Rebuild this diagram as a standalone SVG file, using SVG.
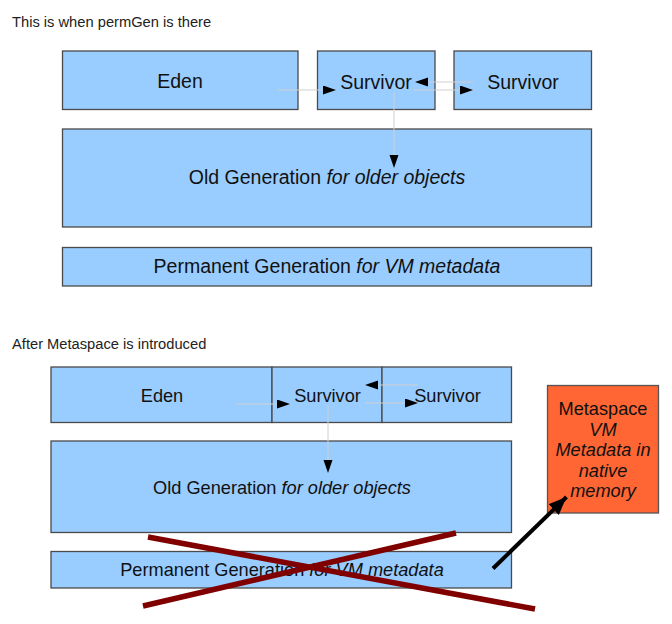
<svg xmlns="http://www.w3.org/2000/svg" width="672" height="624" viewBox="0 0 672 624">
<style>
.box{fill:#99ccff;stroke:#4a4a4a;stroke-width:1.3}
.meta{fill:#ff6633;stroke:#555;stroke-width:1.3}
.t{font-family:"Liberation Sans",Arial,sans-serif;fill:#111;text-anchor:middle}
.t1{font-size:19.5px}
.t2{font-size:18.2px}
.title{font-family:"Liberation Sans",Arial,sans-serif;font-size:14.7px;fill:#222}
.it{font-style:italic}
.conn{stroke:#d0d0d0;stroke-width:1;fill:none}
.big{stroke:#000;stroke-width:4;fill:none}
.cross{stroke:#800000;stroke-width:5.5;fill:none}
</style>
<defs>
<marker id="ah" markerUnits="userSpaceOnUse" markerWidth="14" markerHeight="10" refX="13" refY="4.5" orient="auto">
<path d="M0,0 L13,4.5 L0,9 Z" fill="#000"/>
</marker>
<marker id="bigah" markerUnits="userSpaceOnUse" markerWidth="20" markerHeight="16" refX="18" refY="7.5" orient="auto">
<path d="M0,0 L18,7.5 L0,15 Z" fill="#000"/>
</marker>
</defs>
<rect width="672" height="624" fill="#fff"/>
<text class="title" x="12" y="27">This is when permGen is there</text>
<g id="eden1"><rect class="box" x="62.5" y="51" width="235.5" height="58.5"/><text class="t t1" x="180" y="87.5">Eden</text></g>
<g id="survivor1a"><rect class="box" x="317.5" y="51" width="117.5" height="58.5"/><text class="t t1" x="376" y="88.5">Survivor</text></g>
<g id="survivor1b"><rect class="box" x="454" y="51" width="137.5" height="58.5"/><text class="t t1" x="523" y="88.5">Survivor</text></g>
<g id="old1"><rect class="box" x="62.5" y="129" width="529" height="98"/><text class="t t1" x="327" y="184"><tspan>Old Generation </tspan><tspan class="it">for older objects</tspan></text></g>
<g id="perm1"><rect class="box" x="62.5" y="247.5" width="529" height="38.5"/><text class="t t1" x="327" y="273"><tspan>Permanent Generation </tspan><tspan class="it">for VM metadata</tspan></text></g>
<text class="title" x="12" y="348.5">After Metaspace is introduced</text>
<g id="eden2"><rect class="box" x="51" y="367" width="221" height="55.5"/><text class="t t2" x="162" y="402">Eden</text></g>
<g id="survivor2a"><rect class="box" x="272" y="367" width="110" height="55.5"/><text class="t t2" x="327.5" y="401.5">Survivor</text></g>
<g id="survivor2b"><rect class="box" x="382" y="367" width="129.5" height="55.5"/><text class="t t2" x="447.5" y="401.5">Survivor</text></g>
<g id="old2"><rect class="box" x="51" y="441" width="460.5" height="91.5"/><text class="t t2" x="282" y="493.5"><tspan>Old Generation </tspan><tspan class="it">for older objects</tspan></text></g>
<g id="perm2"><rect class="box" x="51" y="551.5" width="460.5" height="36.5"/><text class="t t2" x="282" y="575.5"><tspan>Permanent Generation </tspan><tspan class="it">for VM metadata</tspan></text></g>
<g id="metaspace"><rect class="meta" x="547.5" y="385.5" width="111" height="127.5"/>
<text class="t t2" x="603" y="415">Metaspace</text>
<text class="t t2 it" x="603" y="435.5">VM</text>
<text class="t t2 it" x="603" y="456">Metadata in</text>
<text class="t t2 it" x="603" y="476.5">native</text>
<text class="t t2 it" x="603" y="497">memory</text></g>
<g id="connectors">
<line class="conn" x1="278" y1="90" x2="336" y2="90" marker-end="url(#ah)"/>
<line class="conn" x1="473" y1="82" x2="415" y2="82" marker-end="url(#ah)"/>
<line class="conn" x1="413" y1="90" x2="473" y2="90" marker-end="url(#ah)"/>
<line class="conn" x1="394" y1="92" x2="394" y2="168" marker-end="url(#ah)"/>
<line class="conn" x1="236" y1="404" x2="290" y2="404" marker-end="url(#ah)"/>
<line class="conn" x1="418" y1="385" x2="365" y2="385" marker-end="url(#ah)"/>
<line class="conn" x1="365" y1="403" x2="418" y2="403" marker-end="url(#ah)"/>
<line class="conn" x1="328" y1="405" x2="328" y2="473" marker-end="url(#ah)"/>
<line class="big" x1="493" y1="568.5" x2="566.5" y2="497" marker-end="url(#bigah)"/>
</g>
<g id="cross">
<line class="cross" x1="148" y1="537" x2="535" y2="609"/>
<line class="cross" x1="456" y1="533" x2="143" y2="606"/>
</g>
</svg>
